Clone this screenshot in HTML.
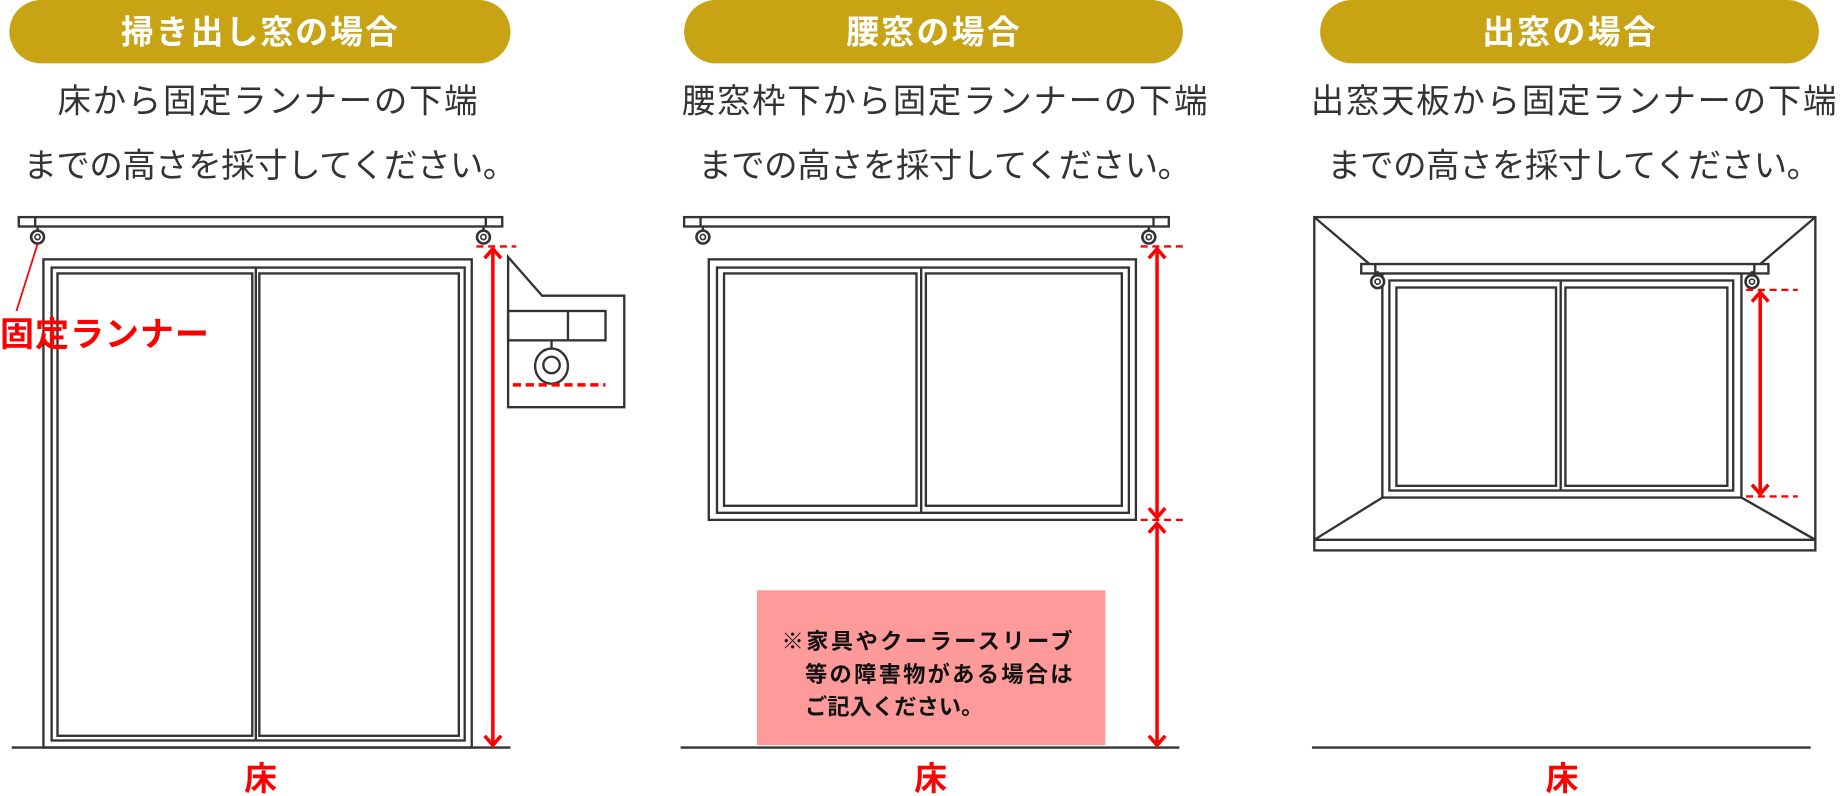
<!DOCTYPE html>
<html><head><meta charset="utf-8"><style>
html,body{margin:0;padding:0;background:#fff;}
svg{display:block;}
text{font-family:"Liberation Sans","Noto Sans CJK JP",sans-serif;}
</style></head><body>
<svg width="1840" height="796" viewBox="0 0 1568 678.3" xmlns="http://www.w3.org/2000/svg">
<defs>
<g id="runner"><line x1="0" y1="-9" x2="0" y2="-4" stroke="#333" stroke-width="2"/><circle cx="0" cy="0" r="5.5" fill="#fff" stroke="#333" stroke-width="2.2"/><circle cx="0" cy="0" r="2.2" fill="#fff" stroke="#333" stroke-width="1.4"/></g>
</defs>
<g fill="#c8a415">
<rect x="8" y="0" width="427" height="54" rx="27"/>
<rect x="583" y="0" width="425" height="54" rx="27"/>
<rect x="1125" y="0" width="425" height="54" rx="27"/>
</g>
<g fill="#fff" font-weight="bold" font-size="28" text-anchor="middle">
<text x="221" y="37" textLength="236" lengthAdjust="spacing">掃き出し窓の場合</text>
<text x="795" y="37" textLength="148" lengthAdjust="spacing">腰窓の場合</text>
<text x="1337" y="37" textLength="148" lengthAdjust="spacing">出窓の場合</text>
</g>
<g fill="#333" font-size="28.5" text-anchor="middle">
<text x="228" y="96" textLength="358" lengthAdjust="spacing">床から固定ランナーの下端</text>
<text x="230" y="151" textLength="420" lengthAdjust="spacing">までの高さを採寸してください。</text>
<text x="805" y="96" textLength="448" lengthAdjust="spacing">腰窓枠下から固定ランナーの下端</text>
<text x="805" y="151" textLength="420" lengthAdjust="spacing">までの高さを採寸してください。</text>
<text x="1341" y="96" textLength="448" lengthAdjust="spacing">出窓天板から固定ランナーの下端</text>
<text x="1341" y="151" textLength="420" lengthAdjust="spacing">までの高さを採寸してください。</text>
</g>
<g fill="none" stroke="#333" stroke-width="2">
<rect x="16" y="185" width="412" height="8" fill="#fff"/>
<line x1="30" y1="185" x2="30" y2="193"/><line x1="414" y1="185" x2="414" y2="193"/>
<rect x="37" y="221" width="365" height="416"/>
<rect x="44" y="228" width="352" height="403"/>
<rect x="49" y="233" width="166" height="394"/>
<rect x="221" y="233" width="170" height="394"/>
<line x1="218" y1="228" x2="218" y2="631"/>
<line x1="10" y1="637" x2="435" y2="637"/>
<path d="M433 219 L462 252 L532 252 L532 347 L433 347 Z" fill="#fff"/>
<rect x="433" y="265" width="83" height="25"/><line x1="484" y1="265" x2="484" y2="290"/>
<line x1="470" y1="290" x2="470" y2="298"/>
<ellipse cx="470" cy="312" rx="14" ry="15" fill="#fff"/>
<circle cx="470" cy="311" r="7"/>
<rect x="583" y="185" width="413" height="8" fill="#fff"/>
<line x1="597" y1="185" x2="597" y2="193"/><line x1="983" y1="185" x2="983" y2="193"/>
<rect x="604" y="221" width="364" height="222"/>
<rect x="611" y="228" width="351" height="209"/>
<rect x="617" y="233" width="164" height="198"/>
<rect x="789" y="233" width="167" height="198"/>
<line x1="785" y1="228" x2="785" y2="437"/>
<line x1="580" y1="637" x2="1005" y2="637"/>
<rect x="1120" y="185" width="427" height="284"/>
<line x1="1120" y1="460" x2="1547" y2="460"/>
<line x1="1120" y1="185" x2="1167" y2="225"/>
<line x1="1547" y1="185" x2="1500" y2="225"/>
<line x1="1120" y1="460" x2="1178" y2="424"/>
<line x1="1547" y1="460" x2="1484" y2="424"/>
<rect x="1178" y="233" width="306" height="191"/>
<rect x="1184" y="239" width="293" height="179"/>
<rect x="1190" y="245" width="136" height="169"/>
<rect x="1334" y="245" width="138" height="169"/>
<line x1="1330" y1="239" x2="1330" y2="418"/>
<rect x="1160" y="225" width="347" height="8" fill="#fff"/>
<line x1="1172" y1="225" x2="1172" y2="233"/><line x1="1495" y1="225" x2="1495" y2="233"/>
<line x1="1118" y1="637" x2="1543" y2="637"/>
</g>
<use href="#runner" x="32" y="202"/><use href="#runner" x="412" y="202"/>
<use href="#runner" x="599" y="202"/><use href="#runner" x="979" y="202"/>
<use href="#runner" x="1174" y="240"/><use href="#runner" x="1493" y="240"/>
<g stroke="#f00" fill="none">
<line x1="32" y1="208" x2="14" y2="265" stroke-width="1.5"/>
<line x1="406" y1="210" x2="440" y2="210" stroke-width="2" stroke-dasharray="6,4"/>
<line x1="437" y1="328" x2="516" y2="328" stroke-width="3" stroke-dasharray="7,4"/>
<line x1="420" y1="212" x2="420" y2="635" stroke-width="3"/>
<path d="M413 220 L420 212 L427 220 M413 627 L420 635 L427 627" stroke-width="3"/>
<line x1="972" y1="210" x2="1008" y2="210" stroke-width="2" stroke-dasharray="6,4"/>
<line x1="972" y1="443" x2="1010" y2="443" stroke-width="2" stroke-dasharray="6,4"/>
<line x1="986" y1="212" x2="986" y2="441" stroke-width="3"/>
<path d="M979 220 L986 212 L993 220 M979 433 L986 441 L993 433" stroke-width="3"/>
<line x1="986" y1="446" x2="986" y2="635" stroke-width="3"/>
<path d="M979 454 L986 446 L993 454 M979 627 L986 635 L993 627" stroke-width="3"/>
<line x1="1488" y1="247" x2="1532" y2="247" stroke-width="2" stroke-dasharray="6,4"/>
<line x1="1488" y1="423" x2="1532" y2="423" stroke-width="2" stroke-dasharray="6,4"/>
<line x1="1500" y1="249" x2="1500" y2="421" stroke-width="3"/>
<path d="M1493 257 L1500 249 L1507 257 M1493 413 L1500 421 L1507 413" stroke-width="3"/>
</g>
<text x="0" y="295" fill="#f00" font-weight="bold" font-size="29" textLength="178" lengthAdjust="spacing">固定ランナー</text>
<rect x="645" y="503" width="297" height="132" fill="#ff9a9a"/>
<g fill="#111" font-weight="bold" font-size="19">
<text x="666" y="553" textLength="248" lengthAdjust="spacing">※家具やクーラースリーブ</text>
<text x="686" y="581" textLength="228" lengthAdjust="spacing">等の障害物がある場合は</text>
<text x="686" y="609" textLength="152" lengthAdjust="spacing">ご記入ください。</text>
</g>
<g fill="#f00" font-weight="bold" font-size="28" text-anchor="middle">
<text x="222" y="673">床</text>
<text x="793" y="673">床</text>
<text x="1331" y="673">床</text>
</g>
</svg>
</body></html>
